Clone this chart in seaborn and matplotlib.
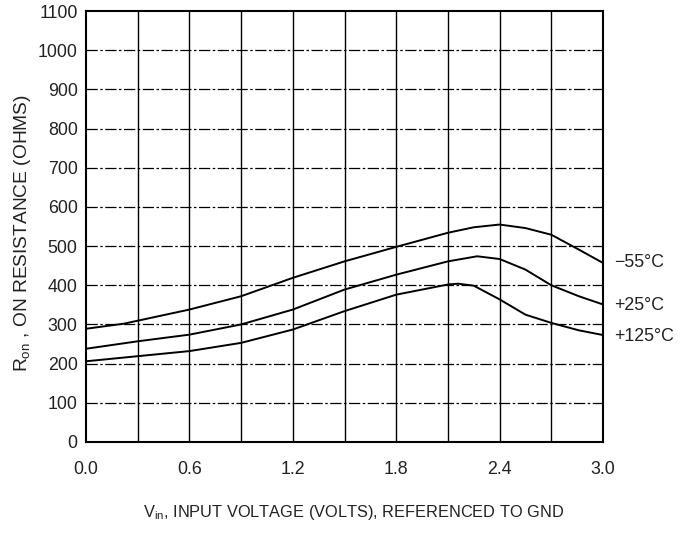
import matplotlib
matplotlib.use("Agg")
import matplotlib.pyplot as plt
import seaborn as sns
import pandas as pd
from matplotlib import font_manager

sns.set_theme(style="white")
fams = [f.name for f in font_manager.fontManager.ttflist]
narrow = "Liberation Sans Narrow" if "Liberation Sans Narrow" in fams else "Liberation Sans"
plt.rcParams['font.family'] = [narrow, 'DejaVu Sans']
plt.rcParams['mathtext.fontset'] = 'custom'
plt.rcParams['mathtext.rm'] = narrow
plt.rcParams['mathtext.it'] = narrow

# data
x_m55 = [0.0, 0.22, 0.6, 0.9, 1.2, 1.5, 1.8, 2.1, 2.25, 2.4, 2.55, 2.7, 2.86, 3.0]
y_m55 = [289, 302, 338, 372, 419, 461, 498, 534, 548, 555, 546, 529, 491, 457]
x_p25 = [0.0, 0.3, 0.6, 0.9, 1.2, 1.5, 1.8, 2.1, 2.27, 2.4, 2.55, 2.7, 2.86, 3.0]
y_p25 = [238, 257, 274, 300, 338, 389, 427, 461, 474, 467, 440, 400, 372, 351]
x_p125 = [0.0, 0.3, 0.6, 0.9, 1.2, 1.5, 1.8, 2.1, 2.16, 2.25, 2.4, 2.55, 2.7, 2.86, 3.0]
y_p125 = [206, 219, 232, 253, 287, 334, 376, 402, 404, 399, 364, 325, 304, 285, 273]
labels = ["\u221255\u00b0C", "+25\u00b0C", "+125\u00b0C"]
label_y = [457, 349, 268]
x_ticks = [0.0, 0.6, 1.2, 1.8, 2.4, 3.0]
y_ticks = [0, 100, 200, 300, 400, 500, 600, 700, 800, 900, 1000, 1100]

df = pd.concat([
    pd.DataFrame({"v": x_m55, "r": y_m55, "t": labels[0]}),
    pd.DataFrame({"v": x_p25, "r": y_p25, "t": labels[1]}),
    pd.DataFrame({"v": x_p125, "r": y_p125, "t": labels[2]}),
])

W, H = 689, 535
fig = plt.figure(figsize=(W/100, H/100), dpi=100)
ax = fig.add_axes([86/W, 1-442/H, (603-86)/W, (442-11)/H])

txt = "#222222"
# grid
for i in range(1, 10):
    ax.axvline(i*0.3, color="black", lw=1.0, zorder=1)
for v in range(100, 1100, 100):
    ax.axhline(v, color="black", lw=0.9, ls=(0, (9, 2, 2, 2)), zorder=1)

sns.lineplot(data=df, x="v", y="r", hue="t", units="t", estimator=None,
             palette=["black"]*3, legend=False, lw=1.4, ax=ax, sort=False, zorder=3)

for lab, ly in zip(labels, label_y):
    ax.annotate(lab, xy=(3.0, ly), xytext=(8, 0), textcoords="offset points",
                va="center", ha="left", fontsize=12.8, color=txt,
                annotation_clip=False)

ax.set_xlim(0, 3.0)
ax.set_ylim(0, 1100)
ax.set_xticks(x_ticks)
ax.set_xticklabels([f"{t:.1f}" for t in x_ticks])
ax.set_yticks(y_ticks)
ax.tick_params(length=0, labelsize=12.8, labelcolor=txt)
ax.tick_params(axis="x", pad=14)
ax.tick_params(axis="y", pad=6)
for s in ax.spines.values():
    s.set_color("black")
    s.set_linewidth(1.5)

ax.set_xlabel(r"V$_{\rm in}$, INPUT VOLTAGE (VOLTS), REFERENCED TO GND",
              fontsize=11.8, color=txt)
ax.xaxis.set_label_coords((354-86)/(603-86), (442-512)/(442-11), transform=ax.transAxes)
ax.xaxis.label.set_va("center")
ax.set_ylabel(r"R$_{\rm on}$ , ON RESISTANCE (OHMS)", fontsize=13.8, color=txt)
ax.yaxis.set_label_coords((23-86)/(603-86), (442-233)/(442-11), transform=ax.transAxes)
ax.yaxis.label.set_va("center")

fig.savefig("out.png", dpi=100)
